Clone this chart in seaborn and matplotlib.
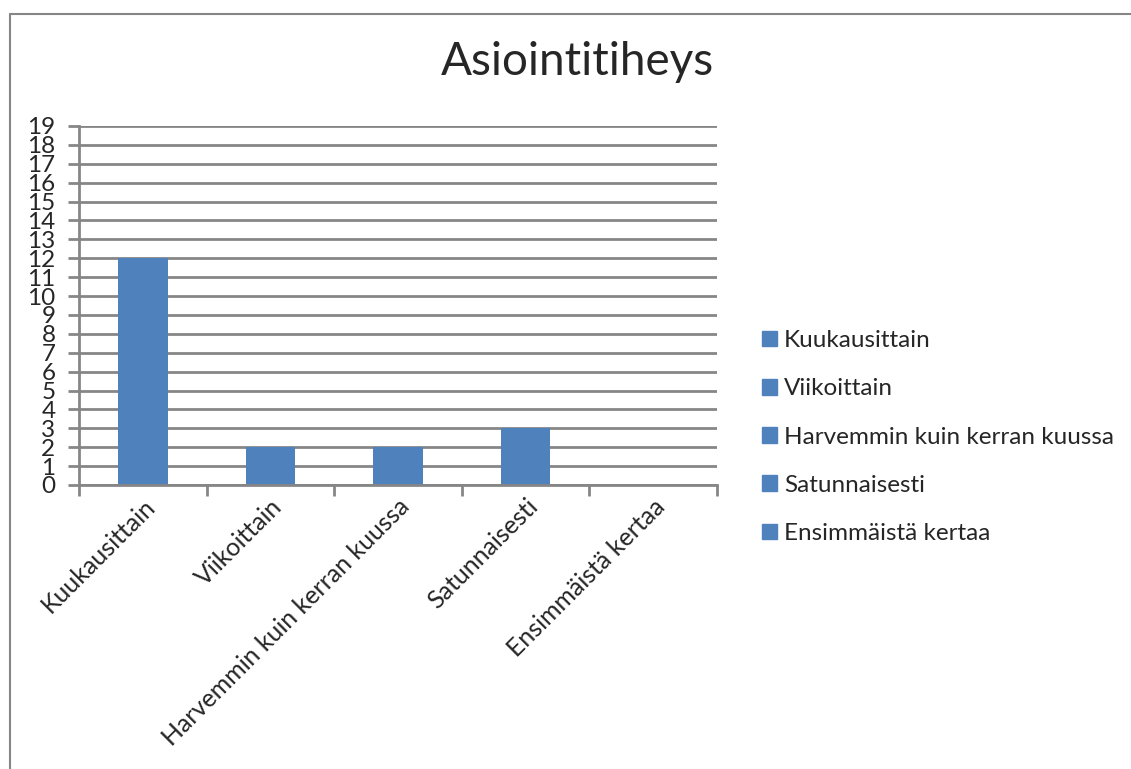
import matplotlib
matplotlib.use("Agg")
import matplotlib.pyplot as plt
import seaborn as sns
import pandas as pd
from matplotlib.patches import Rectangle
from matplotlib.lines import Line2D

categories = ["Kuukausittain", "Viikoittain", "Harvemmin kuin kerran kuussa",
              "Satunnaisesti", "Ensimmäistä kertaa"]
values = [12, 2, 2, 3, 0]
title = "Asiointitiheys"
yticks = list(range(0, 20))

bar_color = "#4F81BD"
grid_color = "#868686"

sns.set_theme(style="white")
plt.rcParams['font.family'] = ['Lato', 'DejaVu Sans']

W, H = 1131, 769
fig = plt.figure(figsize=(W / 100, H / 100), dpi=100)
ax = fig.add_axes([79 / W, 1 - 485 / H, (717 - 79) / W, (485 - 126) / H])

df = pd.DataFrame({"cat": categories, "val": values})
sns.barplot(data=df, x="cat", y="val", hue="cat", palette=[bar_color] * 5,
            dodge=False, width=0.39, ax=ax, legend=True, saturation=1,
            edgecolor="none", linewidth=0)

ax.set_ylim(0, 19)
ax.set_xlim(-0.5, 4.5)
ax.set_yticks(yticks)
ax.set_yticklabels([str(v) for v in yticks], fontsize=17.5)
ax.yaxis.grid(True, color=grid_color, linewidth=2)
ax.set_axisbelow(True)
for s in ["top", "right"]:
    ax.spines[s].set_visible(False)
for s in ["left", "bottom"]:
    ax.spines[s].set_color(grid_color)
    ax.spines[s].set_linewidth(2)
ax.tick_params(axis="y", length=8, width=2, color=grid_color, pad=9, left=True)
ax.set_xlabel("")
ax.set_ylabel("")

# x ticks: marks at category boundaries, labels at centers
ax.set_xticks([i - 0.5 for i in range(6)], minor=False)
ax.set_xticklabels([""] * 6)
ax.tick_params(axis="x", which="major", length=8, width=2, color=grid_color, bottom=True)
ax.set_xticks(range(5), minor=True)
ax.set_xticklabels(categories, minor=True, rotation=45, ha="right", va="top",
                   rotation_mode="anchor", fontsize=18)
ax.tick_params(axis="x", which="minor", length=0, pad=7)

# legend
leg = ax.get_legend()
if leg is not None:
    leg.remove()
handles = [Rectangle((0, 0), 1, 1, color=bar_color) for _ in categories]
fig.legend(handles, categories, loc="center left",
           bbox_to_anchor=(752 / W, 1 - 437 / H), frameon=False, fontsize=17.5,
           handlelength=0.62, handleheight=0.62, handletextpad=0.3,
           labelspacing=1.12, borderaxespad=0)

fig.text(577 / W, 1 - 62 / H, title, ha="center", va="center", fontsize=33)

# outer frame
fig.add_artist(Line2D([10 / W, 1.0], [1 - 14 / H, 1 - 14 / H], color=grid_color,
                      linewidth=1.5, transform=fig.transFigure))
fig.add_artist(Line2D([10 / W, 10 / W], [1 - 14 / H, 0], color=grid_color,
                      linewidth=1.5, transform=fig.transFigure))

fig.savefig("out.png", dpi=100)
